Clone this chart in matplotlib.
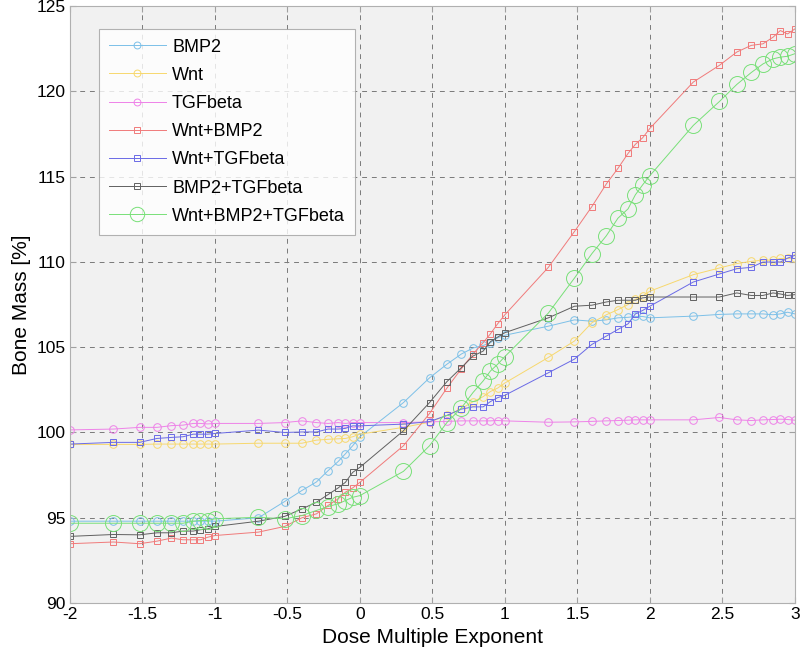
import matplotlib
matplotlib.use("Agg")
import matplotlib.pyplot as plt

plt.rcParams['font.family'] = ['Liberation Sans', 'DejaVu Sans']
plt.rcParams['axes.unicode_minus'] = False

# dose multiple exponent (log10 of 0.01 ... 1000)
dose_exp = [-2.0, -1.7, -1.52, -1.4, -1.3, -1.22, -1.15, -1.1, -1.05,
            -1.0, -0.7, -0.52, -0.4, -0.3, -0.22, -0.15, -0.1, -0.05,
            0.0, 0.3, 0.48, 0.6, 0.7, 0.78, 0.85, 0.9, 0.95,
            1.0, 1.3, 1.48, 1.6, 1.7, 1.78, 1.85, 1.9, 1.95,
            2.0, 2.3, 2.48, 2.6, 2.7, 2.78, 2.85, 2.9, 2.95, 3.0]

bmp2 = [94.8, 94.8, 94.8, 94.8, 94.8, 94.8, 94.8, 94.8, 94.8,
        94.8, 95.0, 95.95, 96.6, 97.1, 97.76, 98.3, 98.75, 99.22,
        99.75, 101.75, 103.2, 104.0, 104.6, 104.95, 105.1, 105.26, 105.55,
        105.7, 106.23, 106.6, 106.52, 106.6, 106.72, 106.75, 106.8, 106.8,
        106.72, 106.82, 106.92, 106.95, 106.95, 106.95, 106.9, 106.95, 107.05, 106.95]

wnt = [99.3, 99.3, 99.3, 99.32, 99.32, 99.32, 99.32, 99.32, 99.32,
       99.32, 99.37, 99.37, 99.37, 99.55, 99.6, 99.63, 99.65, 99.75,
       99.9, 100.3, 100.6, 101.0, 101.4, 101.8, 102.1, 102.4, 102.6,
       102.9, 104.4, 105.36, 106.43, 106.9, 107.2, 107.5, 107.8, 108.0,
       108.28, 109.25, 109.64, 109.9, 110.03, 110.1, 110.1, 110.2, 110.2, 110.2]

tgfbeta = [100.15, 100.2, 100.3, 100.3, 100.4, 100.43, 100.53, 100.53, 100.5,
           100.53, 100.53, 100.58, 100.68, 100.58, 100.53, 100.58, 100.53, 100.58,
           100.58, 100.58, 100.62, 100.65, 100.68, 100.68, 100.68, 100.68, 100.7,
           100.68, 100.6, 100.62, 100.65, 100.68, 100.7, 100.72, 100.74, 100.74,
           100.74, 100.74, 100.88, 100.74, 100.7, 100.74, 100.76, 100.78, 100.76, 100.72]

wnt_bmp2 = [93.48, 93.58, 93.48, 93.63, 93.81, 93.71, 93.71, 93.71, 93.86,
            93.96, 94.16, 94.49, 95.0, 95.23, 95.72, 96.11, 96.5, 96.75,
            97.08, 99.22, 101.11, 102.6, 103.74, 104.6, 105.26, 105.78, 106.37,
            106.9, 109.68, 111.78, 113.24, 114.57, 115.48, 116.36, 116.89, 117.27,
            117.82, 120.54, 121.52, 122.3, 122.69, 122.78, 123.17, 123.56, 123.36, 123.65]

wnt_tgfbeta = [99.32, 99.42, 99.42, 99.65, 99.71, 99.75, 99.9, 99.9, 99.9,
               99.94, 100.14, 100.0, 100.03, 100.03, 100.2, 100.2, 100.24, 100.39,
               100.39, 100.49, 100.64, 101.0, 101.37, 101.5, 101.5, 101.81, 102.04,
               102.18, 103.5, 104.3, 105.16, 105.65, 106.04, 106.37, 106.95, 107.15,
               107.4, 108.82, 109.29, 109.6, 109.68, 109.99, 109.99, 109.99, 110.22, 110.38]

bmp2_tgfbeta = [93.91, 94.02, 94.0, 94.12, 94.12, 94.22, 94.22, 94.3, 94.35,
                94.49, 94.8, 95.08, 95.52, 95.91, 96.36, 96.75, 97.08, 97.66,
                97.96, 100.1, 101.75, 102.98, 103.8, 104.48, 104.77, 105.32, 105.59,
                105.85, 106.72, 107.4, 107.46, 107.65, 107.75, 107.75, 107.75, 107.89,
                107.94, 107.94, 107.94, 108.18, 108.03, 108.03, 108.18, 108.12, 108.03, 108.08]

wnt_bmp2_tgfbeta = [94.68, 94.68, 94.68, 94.68, 94.68, 94.68, 94.8, 94.84, 94.84,
                    94.94, 95.03, 94.94, 95.13, 95.43, 95.66, 95.82, 96.01, 96.2,
                    96.3, 97.72, 99.22, 100.58, 101.44, 102.34, 103.02, 103.6, 104.0,
                    104.45, 107.0, 109.05, 110.48, 111.53, 112.56, 113.11, 113.93, 114.51,
                    115.05, 118.0, 119.4, 120.4, 121.1, 121.6, 121.9, 122.0, 122.05, 122.2]

series = [
    ("BMP2", bmp2, '#7cc0e8', 'o', 5.5),
    ("Wnt", wnt, '#f7d86e', 'o', 5.5),
    ("TGFbeta", tgfbeta, '#ee82e8', 'o', 5.5),
    ("Wnt+BMP2", wnt_bmp2, '#f07a7a', 's', 5),
    ("Wnt+TGFbeta", wnt_tgfbeta, '#6a6ae6', 's', 5),
    ("BMP2+TGFbeta", bmp2_tgfbeta, '#606060', 's', 5),
    ("Wnt+BMP2+TGFbeta", wnt_bmp2_tgfbeta, '#78e078', 'o', 11.5),
]

fig = plt.figure(figsize=(8.0, 6.62), dpi=100)
ax = fig.add_axes([0.0875, 0.089, 0.906, 0.902])
ax.set_facecolor('#f1f1f1')

for label, vals, color, marker, ms in series:
    ax.plot(dose_exp, vals, color=color, marker=marker, markersize=ms,
            markerfacecolor='none', markeredgecolor=color, linewidth=0.7,
            markeredgewidth=0.7, label=label)

ax.set_xlim(-2, 3)
ax.set_ylim(90, 125)
xticks = [-2, -1.5, -1, -0.5, 0, 0.5, 1, 1.5, 2, 2.5, 3]
ax.set_xticks(xticks)
ax.set_xticklabels(['-2', '-1.5', '-1', '-0.5', '0', '0.5', '1', '1.5', '2', '2.5', '3'])
ax.set_yticks([90, 95, 100, 105, 110, 115, 120, 125])
ax.tick_params(direction='in', length=4, color='#a0a0a0', labelsize=12.5,
               top=True, right=True, pad=3)
ax.grid(True, color='#7a7a7a', linestyle=(0, (5, 5)), linewidth=0.7)
for s in ax.spines.values():
    s.set_color('#b0b0b0')
    s.set_linewidth(0.8)

ax.set_xlabel('Dose Multiple Exponent', fontsize=15)
ax.set_ylabel('Bone Mass [%]', fontsize=15)

leg = ax.legend(loc='upper left', bbox_to_anchor=(0.04, 0.962), fontsize=13,
                frameon=True, fancybox=False, edgecolor='#a0a0a0',
                handlelength=3.15, labelspacing=0.62, borderpad=0.55,
                handletextpad=0.35, borderaxespad=0, markerscale=0.9)
leg.get_frame().set_linewidth(0.8)

fig.savefig('out.png', dpi=100)
